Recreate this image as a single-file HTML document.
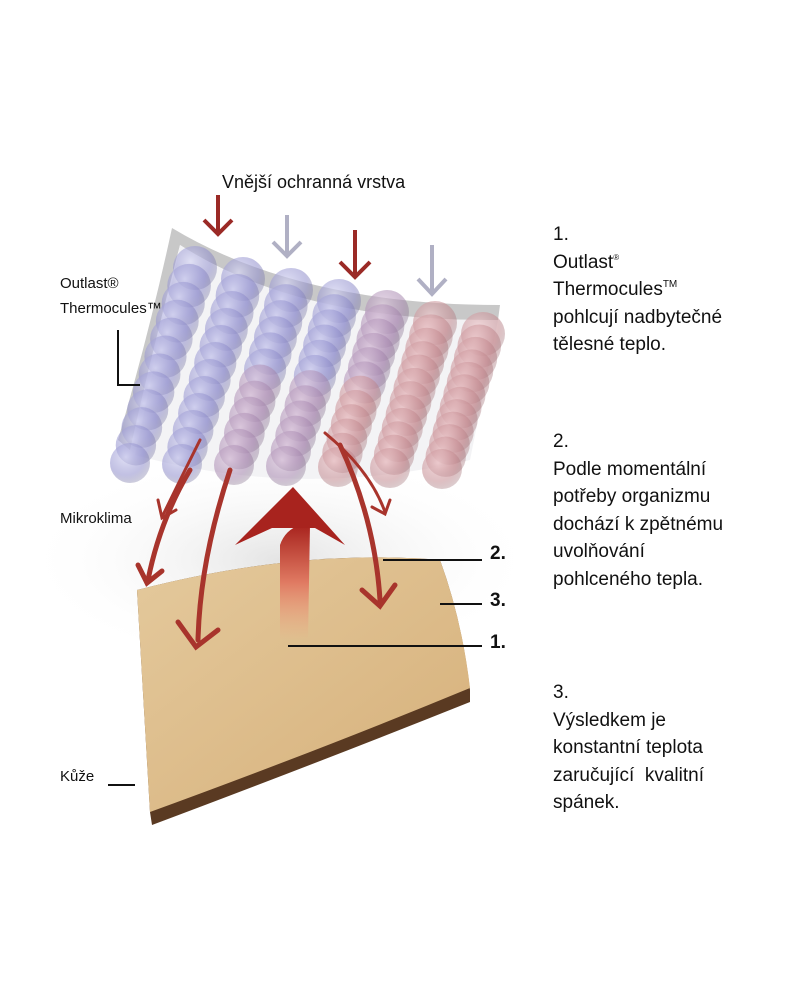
<!DOCTYPE html>
<html><head><meta charset="utf-8"><style>
body{margin:0;background:#fff;width:800px;height:999px;overflow:hidden;font-family:"Liberation Sans",sans-serif;}
.t{position:absolute;color:#111;font-size:19px;line-height:27.5px;}
.s{position:absolute;color:#111;font-size:15px;}
sup{line-height:0;position:relative;top:-8px;vertical-align:baseline;}
</style></head><body>
<svg width="800" height="999" style="position:absolute;left:0;top:0">
<defs>
<radialGradient id="bl" cx="0.4" cy="0.35" r="0.65"><stop offset="0" stop-color="#d8d8f4" stop-opacity="0.7"/><stop offset="0.7" stop-color="#8f8dcc" stop-opacity="0.55"/><stop offset="1" stop-color="#6f6d9e" stop-opacity="0.35"/></radialGradient>
<radialGradient id="rd" cx="0.4" cy="0.35" r="0.65"><stop offset="0" stop-color="#f0cdd0" stop-opacity="0.7"/><stop offset="0.7" stop-color="#c48a90" stop-opacity="0.55"/><stop offset="1" stop-color="#9c6a70" stop-opacity="0.35"/></radialGradient>
<radialGradient id="pu" cx="0.4" cy="0.35" r="0.65"><stop offset="0" stop-color="#e0cce0" stop-opacity="0.7"/><stop offset="0.7" stop-color="#a888b0" stop-opacity="0.55"/><stop offset="1" stop-color="#806a88" stop-opacity="0.35"/></radialGradient>
<radialGradient id="fog" cx="0.5" cy="0.5" r="0.5"><stop offset="0" stop-color="#e4e4e4"/><stop offset="1" stop-color="#fff" stop-opacity="0"/></radialGradient>
<linearGradient id="skin" x1="0" y1="0" x2="1" y2="1"><stop offset="0" stop-color="#e4c99c"/><stop offset="1" stop-color="#d6b07a"/></linearGradient>
<linearGradient id="up" x1="0" y1="1" x2="0" y2="0"><stop offset="0" stop-color="#f0a080" stop-opacity="0"/><stop offset="0.5" stop-color="#e07a62"/><stop offset="1" stop-color="#a8231e"/></linearGradient>
</defs>
<ellipse cx="280" cy="560" rx="260" ry="110" fill="url(#fog)"/>
<path d="M137,590 Q300,548 440,560 Q462,620 470,690 L470,702 Q320,762 152,825 L150,812 Z" fill="#5a3a22"/>
<path d="M137,590 Q300,548 440,560 Q462,620 470,688 Q320,750 150,812 Z" fill="url(#skin)"/>
<path d="M172,228 Q300,305 500,305 L498,320 Q300,322 180,245 Q150,360 130,450 L118,440 Q150,330 172,228 Z" fill="#c8c8c8"/>
<path d="M180,245 Q300,322 498,320 L470,460 Q300,500 135,455 Z" fill="#f0f0f2" opacity="0.8"/>
<g id="sph"></g>
<g stroke="#9b2a26" stroke-width="4" fill="none"><path d="M218,195V232M204,220L218,234L232,220"/><path d="M355,230V275M340,262L355,277L370,262"/></g>
<g stroke="#b0b0c4" stroke-width="4" fill="none"><path d="M287,215V255M273,242L287,256L301,242"/><path d="M432,245V292M418,279L432,294L446,279"/></g>
<g stroke="#a8342c" stroke-width="5" fill="none" stroke-linecap="round">
<path d="M190,470 Q160,520 148,580"/><path d="M138,565L147,583L162,571"/>
<path d="M230,470 Q200,560 198,640"/><path d="M178,622L196,647L218,630"/>
<path d="M340,445 Q375,520 380,600"/><path d="M362,590L380,606L395,585"/>
<path d="M325,433 Q370,470 385,512" stroke-width="3"/><path d="M372,507L385,514L390,500" stroke-width="3"/>
<path d="M200,440 Q180,480 163,515" stroke-width="3"/><path d="M158,500L162,518L176,510" stroke-width="3"/>
</g>
<path d="M280,640 L280,545 Q285,530 300,525 L310,525 L308,640 Z" fill="url(#up)"/>
<path d="M235,545 L293,487 L345,545 L315,528 L272,528 Z" fill="#a8231e"/>
<g stroke="#111" stroke-width="2" fill="none"><path d="M118,330V385H140"/><path d="M108,785H135"/><path d="M383,560H482"/><path d="M440,604H482"/><path d="M288,646H482"/></g>
</svg>
<script>
var g=document.getElementById('sph'),s='';
for(var i=0;i<7;i++){var f=i<4?'bl':i<5?'pu':'rd';
for(var j=0;j<12;j++){var t=j/11;var x=195+48*i-(65-4*i)*t,y=268+11*i+(195-10*i)*t;
var ff=(i>=2&&t>0.5)?(i<4?'pu':'rd'):f;
s+='<circle cx="'+x+'" cy="'+y+'" r="'+(22-2*t)+'" fill="url(#'+ff+')"/>';}}
g.innerHTML=s;
</script>
<div class="s" style="left:222px;top:172px;font-size:18px">Vnější ochranná vrstva</div>
<div class="s" style="left:60px;top:275px">Outlast®</div>
<div class="s" style="left:60px;top:300px">Thermocules™</div>
<div class="s" style="left:60px;top:510px">Mikroklima</div>
<div class="s" style="left:60px;top:768px">Kůže</div>
<div class="s" style="left:490px;top:543px;font-size:19px;font-weight:bold">2.</div>
<div class="s" style="left:490px;top:590px;font-size:19px;font-weight:bold">3.</div>
<div class="s" style="left:490px;top:632px;font-size:19px;font-weight:bold">1.</div>
<div class="t" style="left:553px;top:221px">1.<br>Outlast<sup style="font-size:8px">®</sup><br>Thermocules<sup style="font-size:10px">TM</sup><br>pohlcují nadbytečné<br>tělesné teplo.</div>
<div class="t" style="left:553px;top:428px">2.<br>Podle momentální<br>potřeby organizmu<br>dochází k zpětnému<br>uvolňování<br>pohlceného tepla.</div>
<div class="t" style="left:553px;top:679px">3.<br>Výsledkem je<br>konstantní teplota<br>zaručující&nbsp; kvalitní<br>spánek.</div>
</body></html>
